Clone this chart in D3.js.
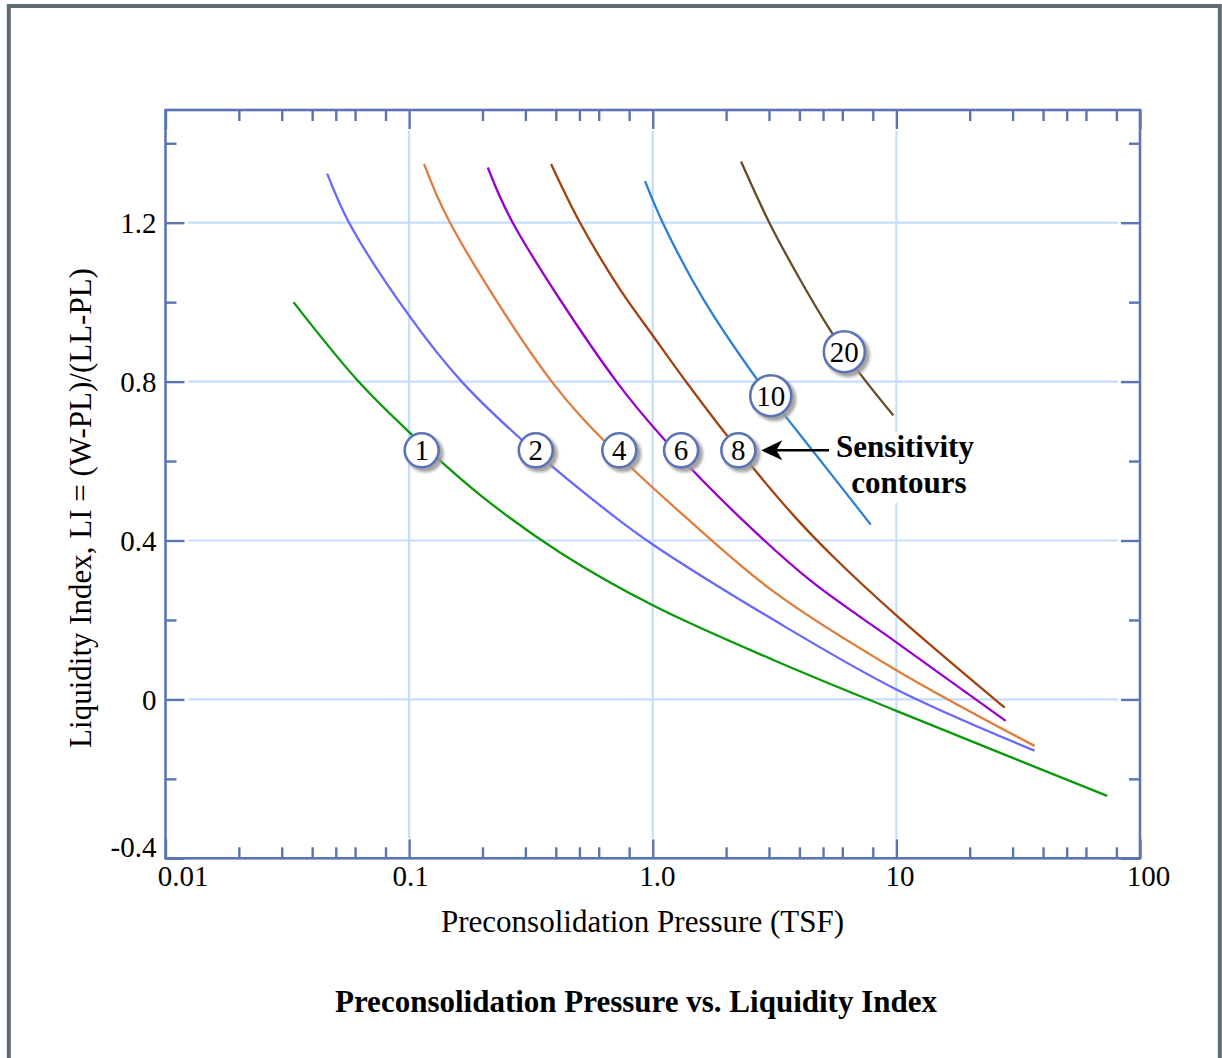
<!DOCTYPE html>
<html><head><meta charset="utf-8">
<script src="https://cdn.jsdelivr.net/npm/d3@7"></script>
<style>body{margin:0;background:#fff}svg{display:block}</style>
</head><body>
<svg id="c" width="1222" height="1058"></svg>
<script>
// ---------- data ----------
const xMajorTicks = [0.01, 0.1, 1, 10, 100];
const xTickLabels = ["0.01", "0.1", "1.0", "10", "100"];
const xMinorTicks = [0.02,0.03,0.04,0.05,0.06,0.08, 0.2,0.3,0.4,0.5,0.6,0.8, 2,3,4,5,6,8, 20,30,40,50,60,80];
const yMajorTicks = [-0.4, 0, 0.4, 0.8, 1.2];
const yTickLabels = ["-0.4", "0", "0.4", "0.8", "1.2"];
const yMinorTicks = [-0.2, 0.2, 0.6, 1.0, 1.4];
const xGridValues = [0.1, 1, 10];
const yGridValues = [0, 0.4, 0.8, 1.2];

const sensitivities = ["1", "2", "4", "6", "8", "10", "20"];
const s1X = [0.0335, 0.062, 0.1, 0.2, 0.416, 1.0, 3.16, 10, 28.3, 73.3];
const s1Y = [1.0, 0.8, 0.673, 0.51, 0.37, 0.237, 0.098, -0.029, -0.141, -0.243];
const s2X = [0.0461, 0.0567, 0.1, 0.1644, 0.3226, 0.69, 1.0, 3.157, 10, 36.9];
const s2Y = [1.3235, 1.2, 0.966, 0.8, 0.628, 0.462, 0.39, 0.199, 0.025, -0.129];
const s4X = [0.1151, 0.1472, 0.385, 0.7036, 1.357, 3.157, 10, 36.9];
const s4Y = [1.348, 1.2, 0.8, 0.622, 0.46, 0.27, 0.0736, -0.117];
const s6X = [0.2103, 0.2663, 0.71, 1.244, 2.328, 4.42, 10, 28.1];
const s6Y = [1.339, 1.2, 0.8, 0.622, 0.4526, 0.30, 0.1437, -0.054];
const s8X = [0.3825, 0.503, 0.734, 1.0, 1.38, 2.142, 3.80, 5.51, 10, 27.84];
const s8Y = [1.348, 1.2, 1.032, 0.916, 0.797, 0.644, 0.462, 0.359, 0.2114, -0.021];
const s10X = [0.930, 1.099, 1.613, 2.72, 3.437, 4.288, 7.85];
const s10Y = [1.3046, 1.2, 1.0075, 0.8, 0.7194, 0.645, 0.44];
const s20X = [2.304, 3.01, 4.024, 5.343, 6.917, 9.72];
const s20Y = [1.354, 1.2, 1.057, 0.93, 0.829, 0.715];
const seriesColors = ["#0a990a", "#6868ff", "#e07d3c", "#9a00cc", "#a3420f", "#2b80d5", "#6a4a26"];

const labelX = [0.1126, 0.331, 0.729, 1.307, 2.246, 3.05, 6.115];
const labelY = [0.627, 0.627, 0.627, 0.627, 0.627, 0.7645, 0.8753];

const xTitle = "Preconsolidation Pressure (TSF)";
const yTitle = "Liquidity Index, LI = (W-PL)/(LL-PL)";
const chartTitle = "Preconsolidation Pressure vs. Liquidity Index";
const noteLines = ["Sensitivity", "contours"];

// ---------- layout ----------
const L = 165.5, R = 1140, T = 110, B = 858.3;
const axisColor = "#5b74b5", gridColor = "#c6ddff";
const serif = "'Liberation Serif','Times New Roman',serif";

const svg = d3.select("#c");
const defs = svg.append("defs");
const f = defs.append("filter").attr("id", "sh").attr("x", "-50%").attr("y", "-50%").attr("width", "200%").attr("height", "200%");
f.append("feGaussianBlur").attr("stdDeviation", 1.5);

// outer frame
svg.append("rect").attr("x", 8.8).attr("y", 6).attr("width", 1211).attr("height", 1120)
  .attr("fill", "#fff").attr("stroke", "#5f6a71").attr("stroke-width", 4);

const x = d3.scaleLog().domain([0.01, 100]).range([L, R]);
const y = d3.scaleLinear().domain([-0.4, 1.4837]).range([B, T]);

// grid
const grid = svg.append("g").attr("stroke", gridColor).attr("stroke-width", 2.2);
grid.selectAll("line.v").data(xGridValues).join("line").attr("class", "v")
  .attr("x1", d => x(d)).attr("x2", d => x(d)).attr("y1", T + 21).attr("y2", B - 20);
grid.selectAll("line.h").data(yGridValues).join("line").attr("class", "h")
  .attr("y1", d => y(d)).attr("y2", d => y(d)).attr("x1", L + 23).attr("x2", R - 22);

// annotation background (hides grid only)
svg.append("rect").attr("x", 832).attr("y", 432).attr("width", 146).attr("height", 71).attr("fill", "#fff");

// curves
const seriesX = [s1X, s2X, s4X, s6X, s8X, s10X, s20X];
const seriesY = [s1Y, s2Y, s4Y, s6Y, s8Y, s10Y, s20Y];
const line = d3.line().x(d => x(d[0])).y(d => y(d[1])).curve(d3.curveCatmullRom.alpha(0.5));
const curveData = sensitivities.map((s, i) => seriesX[i].map((v, j) => [v, seriesY[i][j]]));
svg.append("g").selectAll("path").data(curveData).join("path")
  .attr("d", line).attr("fill", "none")
  .attr("stroke", (d, i) => seriesColors[i]).attr("stroke-width", 2.3);

// axes (ticks inward)
function noDomain(g) { g.select(".domain").remove(); g.selectAll("text").remove(); g.selectAll("line").attr("stroke", axisColor).attr("stroke-width", 2.4); }
svg.append("g").attr("transform", `translate(0,${B})`).call(d3.axisBottom(x).tickValues(xMajorTicks).tickSize(-19).tickFormat("")).call(noDomain);
svg.append("g").attr("transform", `translate(0,${B})`).call(d3.axisBottom(x).tickValues(xMinorTicks).tickSize(-11).tickFormat("")).call(noDomain);
svg.append("g").attr("transform", `translate(0,${T})`).call(d3.axisTop(x).tickValues(xMajorTicks).tickSize(-19).tickFormat("")).call(noDomain);
svg.append("g").attr("transform", `translate(0,${T})`).call(d3.axisTop(x).tickValues(xMinorTicks).tickSize(-11).tickFormat("")).call(noDomain);
svg.append("g").attr("transform", `translate(${L},0)`).call(d3.axisLeft(y).tickValues(yMajorTicks).tickSize(-19).tickFormat("")).call(noDomain);
svg.append("g").attr("transform", `translate(${L},0)`).call(d3.axisLeft(y).tickValues(yMinorTicks).tickSize(-11).tickFormat("")).call(noDomain);
svg.append("g").attr("transform", `translate(${R},0)`).call(d3.axisRight(y).tickValues(yMajorTicks).tickSize(-19).tickFormat("")).call(noDomain);
svg.append("g").attr("transform", `translate(${R},0)`).call(d3.axisRight(y).tickValues(yMinorTicks).tickSize(-11).tickFormat("")).call(noDomain);

svg.append("rect").attr("x", L).attr("y", T).attr("width", R - L).attr("height", B - T)
  .attr("fill", "none").attr("stroke", axisColor).attr("stroke-width", 2.6);

// tick labels
const xLabDx = [17, 1, 4, 3, 8];
const gx = svg.append("g").attr("transform", `translate(0,${B})`)
  .call(d3.axisBottom(x).tickValues(xMajorTicks).tickSize(0).tickPadding(7)
    .tickFormat((d, i) => xTickLabels[i]));
gx.select(".domain").remove();
gx.selectAll("text").attr("font-family", serif).attr("font-size", 29).attr("fill", "#000")
  .attr("dx", (d, i) => xLabDx[i]);

const gy = svg.append("g").attr("transform", `translate(${L},0)`)
  .call(d3.axisLeft(y).tickValues(yMajorTicks).tickSize(0).tickPadding(9)
    .tickFormat((d, i) => yTickLabels[i]));
gy.select(".domain").remove();
gy.selectAll("text").attr("font-family", serif).attr("font-size", 29).attr("fill", "#000")
  .attr("dy", d => d === -0.4 ? "-0.05em" : "0.34em");

// axis titles
svg.append("text").attr("x", 642.5).attr("y", 932).attr("text-anchor", "middle")
  .attr("font-family", serif).attr("font-size", 31).text(xTitle);
svg.append("text").attr("transform", "translate(91,508) rotate(-90)").attr("text-anchor", "middle")
  .attr("font-family", serif).attr("font-size", 31).text(yTitle);
svg.append("text").attr("x", 636).attr("y", 1012).attr("text-anchor", "middle")
  .attr("font-family", serif).attr("font-size", 31).attr("font-weight", "bold").text(chartTitle);

// annotation text + arrow
svg.append("text").attr("x", 905).attr("y", 457).attr("text-anchor", "middle")
  .attr("font-family", serif).attr("font-size", 31).attr("font-weight", "bold").text(noteLines[0]);
svg.append("text").attr("x", 909).attr("y", 493).attr("text-anchor", "middle")
  .attr("font-family", serif).attr("font-size", 31).attr("font-weight", "bold").text(noteLines[1]);
const ay = y(labelY[4]);
const tipX = x(labelX[4]) + 23;
svg.append("line").attr("x1", 829).attr("x2", tipX + 12).attr("y1", ay).attr("y2", ay)
  .attr("stroke", "#000").attr("stroke-width", 2.6);
svg.append("path")
  .attr("d", `M${tipX},${ay} L${tipX + 21},${ay - 10} L${tipX + 15},${ay} L${tipX + 21},${ay + 10} Z`)
  .attr("fill", "#000");

// circle labels
const lab = svg.append("g").selectAll("g").data(sensitivities).join("g")
  .attr("transform", (d, i) => `translate(${x(labelX[i])},${y(labelY[i])})`);
const rad = d => d.length > 1 ? 20.5 : 17;
lab.append("circle").attr("cx", 3.5).attr("cy", 3.5).attr("r", d => rad(d) + 1.5)
  .attr("fill", "#9a9a9a").attr("opacity", 0.9).attr("filter", "url(#sh)");
lab.append("circle").attr("r", rad).attr("fill", "#fff")
  .attr("stroke", axisColor).attr("stroke-width", 2.6);
lab.append("text").attr("text-anchor", "middle").attr("dy", "0.35em")
  .attr("font-family", serif).attr("font-size", 29).attr("fill", "#000").text(d => d);
</script>
</body></html>
